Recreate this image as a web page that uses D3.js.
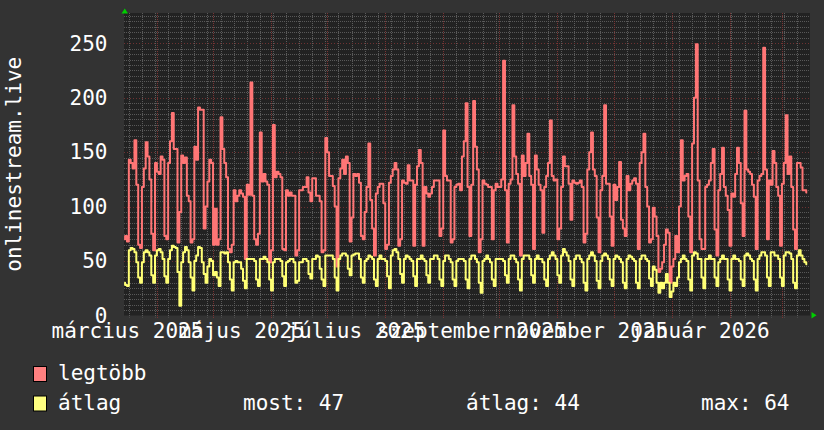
<!DOCTYPE html>
<html>
<head>
<meta charset="utf-8">
<script src="https://cdn.jsdelivr.net/npm/d3@7"></script>
<style>
body { margin: 0; background: #333333; }
text { font-family: "DejaVu Sans Mono", monospace; font-size: 21px; fill: #ffffff; }
</style>
</head>
<body>
<svg id="chart" width="824" height="430"></svg>
<script>
// daily values, one row per week (Fri .. Thu), starting 2025-03-14
const legtobb = [
  70, 73, 68, 143, 140, 135, 161,
  120, 65, 62, 118, 135, 159, 146,
  125, 75, 60, 140, 132, 130, 146,
  143, 73, 70, 140, 160, 186, 153,
  153, 67, 95, 147, 140, 145, 110,
  105, 67, 70, 155, 143, 191, 189,
  189, 80, 100, 123, 143, 140, 65,
  98, 65, 70, 182, 153, 140, 127,
  61, 58, 65, 115, 105, 110, 115,
  112, 109, 52, 120, 111, 214, 110,
  70, 65, 75, 168, 123, 130, 123,
  120, 49, 60, 175, 127, 132, 130,
  127, 61, 60, 115, 110, 113, 110,
  110, 55, 60, 115, 115, 118, 118,
  127, 113, 105, 126, 126, 110, 110,
  105, 58, 60, 163, 150, 128, 128,
  119, 100, 45, 126, 135, 143, 130,
  146, 140, 68, 90, 130, 128, 130,
  122, 73, 70, 95, 118, 158, 106,
  80, 55, 112, 118, 121, 121, 103,
  61, 65, 122, 128, 134, 140, 134,
  64, 70, 124, 122, 121, 138, 124,
  124, 64, 120, 137, 152, 140, 64,
  118, 112, 109, 112, 118, 124, 124,
  124, 73, 80, 170, 128, 124, 124,
  67, 70, 118, 120, 121, 115, 146,
  160, 195, 118, 73, 120, 197, 155,
  134, 58, 70, 124, 121, 120, 118,
  118, 70, 115, 121, 118, 118, 125,
  234, 115, 67, 121, 125, 193, 146,
  130, 121, 55, 147, 128, 140, 167,
  128, 120, 61, 147, 134, 120, 115,
  76, 118, 128, 140, 179, 128, 124,
  125, 70, 80, 118, 146, 137, 137,
  121, 88, 124, 122, 121, 122, 124,
  118, 67, 75, 134, 150, 168, 134,
  128, 90, 58, 115, 128, 193, 121,
  121, 91, 64, 120, 106, 118, 141,
  88, 80, 73, 128, 115, 121, 124,
  126, 121, 61, 140, 150, 167, 118,
  100, 67, 70, 99, 91, 73, 40,
  43, 49, 65, 79, 76, 30, 45,
  52, 73, 58, 100, 161, 124, 128,
  130, 91, 58, 158, 200, 249, 124,
  70, 61, 61, 118, 120, 124, 140,
  153, 79, 55, 115, 130, 154, 118,
  110, 97, 64, 112, 109, 130, 154,
  140, 103, 73, 188, 134, 132, 130,
  120, 109, 61, 124, 128, 130, 246,
  134, 70, 124, 120, 151, 140, 118,
  110, 64, 121, 140, 184, 130, 146,
  118, 79, 61, 140, 140, 136, 115,
  115, 113
];

const atlag = [
  30, 28, 27, 60, 62, 61, 58,
  49, 35, 30, 49, 58, 60, 58,
  55, 37, 30, 55, 60, 61, 58,
  52, 36, 30, 52, 60, 64, 63,
  62, 40, 9, 49, 58, 63, 60,
  49, 35, 23, 50, 55, 63, 62,
  49, 38, 30, 45, 52, 50, 37,
  40, 35, 27, 58, 58, 57, 58,
  49, 33, 23, 49, 50, 49, 49,
  43, 32, 25, 52, 52, 52, 52,
  50, 33, 27, 52, 52, 54, 52,
  49, 33, 23, 49, 52, 52, 52,
  50, 36, 27, 49, 50, 52, 52,
  49, 30, 32, 49, 49, 52, 52,
  50, 38, 34, 52, 52, 55, 54,
  43, 33, 27, 55, 55, 55, 55,
  52, 35, 23, 52, 55, 57, 57,
  55, 43, 37, 55, 56, 57, 57,
  52, 35, 30, 50, 52, 55, 54,
  52, 33, 27, 52, 55, 52, 52,
  50, 36, 25, 55, 60, 61, 58,
  52, 38, 30, 52, 55, 54, 52,
  50, 36, 27, 52, 52, 55, 52,
  50, 37, 30, 52, 52, 55, 55,
  52, 33, 27, 50, 55, 55, 52,
  49, 33, 27, 50, 52, 52, 52,
  50, 33, 25, 52, 55, 55, 52,
  49, 30, 21, 50, 52, 55, 52,
  49, 33, 27, 52, 52, 52, 52,
  50, 37, 30, 52, 55, 55, 52,
  49, 33, 23, 52, 55, 55, 55,
  52, 37, 30, 52, 55, 52, 52,
  49, 33, 27, 52, 55, 58, 55,
  52, 37, 30, 55, 61, 58, 55,
  50, 33, 27, 52, 55, 55, 52,
  49, 30, 23, 52, 55, 58, 55,
  50, 32, 25, 50, 55, 57, 55,
  52, 33, 27, 52, 55, 54, 52,
  49, 30, 25, 52, 55, 54, 52,
  50, 30, 25, 52, 55, 55, 52,
  50, 34, 27, 45, 42, 30, 21,
  30, 25, 30, 38, 30, 17, 22,
  30, 27, 35, 49, 52, 55, 52,
  50, 33, 23, 55, 58, 57, 52,
  52, 35, 25, 52, 52, 55, 52,
  52, 35, 27, 49, 52, 55, 52,
  52, 33, 23, 52, 55, 52, 52,
  50, 33, 27, 55, 57, 55, 52,
  50, 33, 23, 52, 55, 58, 58,
  55, 35, 27, 58, 58, 55, 55,
  52, 35, 27, 55, 58, 58, 57,
  52, 30, 25, 55, 60, 55, 52,
  49, 47
];

const firstDay = Date.UTC(2025, 2, 14);
const yTicks = [0, 50, 100, 150, 200, 250];
const monthLabels = ["március 2025", "május 2025", "július 2025", "szeptember 2025", "november 2025", "január 2026"];
const labelMonths = [[2025, 2], [2025, 4], [2025, 6], [2025, 8], [2025, 10], [2026, 0]];
const seriesNames = ["legtöbb", "átlag"];
const seriesColors = ["#ff7575", "#ffff75"];
const swatchColors = ["#ff8080", "#ffff80"];
const statLabels = ["most: 47", "átlag: 44", "max: 64"];
const title = "onlinestream.live";

var margin = {top: 13, left: 124},
    width = 686,
    height = 302.5;

var svg = d3.select('#chart');
svg.append('rect').attr('width', 824).attr('height', 430).attr('fill', '#333333');

var x = d3.scaleUtc()
          .domain([new Date(Date.UTC(2025, 2, 14, 10)), new Date(Date.UTC(2026, 2, 16))])
          .range([0, width]);
var y = d3.scaleLinear()
          .domain([0, 277.8])
          .range([height, 0]);

var chartGroup = svg.append('g')
                    .attr('transform', 'translate(' + margin.left + ',' + margin.top + ')');

chartGroup.append('rect').attr('width', width).attr('height', height).attr('fill', '#222222');

// minor grid: every 5 units and every monday
var minorY = d3.range(5, 277, 5).filter(function(v){ return v % 50 !== 0; });
chartGroup.selectAll('.hminor').data(minorY).enter().append('line')
          .attr('x1', 0).attr('x2', width)
          .attr('y1', function(d){ return Math.round(y(d)) + 0.5; })
          .attr('y2', function(d){ return Math.round(y(d)) + 0.5; })
          .attr('stroke', '#585858').attr('stroke-dasharray', '1,1');

var mondays = d3.utcMonday.range(x.domain()[0], x.domain()[1]);
chartGroup.selectAll('.vminor').data(mondays).enter().append('line')
          .attr('y1', 0).attr('y2', height + 2)
          .attr('x1', function(d){ return Math.round(x(d)) + 0.5; })
          .attr('x2', function(d){ return Math.round(x(d)) + 0.5; })
          .attr('stroke', '#5c5c5c').attr('stroke-dasharray', '1,1');

// major grid: every 50 units and every month
chartGroup.selectAll('.hmajor').data(yTicks.slice(1)).enter().append('line')
          .attr('x1', 0).attr('x2', width)
          .attr('y1', function(d){ return Math.round(y(d)) + 0.5; })
          .attr('y2', function(d){ return Math.round(y(d)) + 0.5; })
          .attr('stroke', '#6e3232').attr('stroke-dasharray', '1,2');

var months = d3.utcMonth.range(x.domain()[0], x.domain()[1]);
chartGroup.selectAll('.vmajor').data(months).enter().append('line')
          .attr('y1', 0).attr('y2', height + 3)
          .attr('x1', function(d){ return Math.round(x(d)) + 0.5; })
          .attr('x2', function(d){ return Math.round(x(d)) + 0.5; })
          .attr('stroke', '#7a3434').attr('stroke-dasharray', '1,1');

// lines (rrd style: each daily value held for its day)
chartGroup.append('clipPath').attr('id', 'plotclip')
          .append('rect').attr('width', width).attr('height', height);

var line = d3.line()
             .curve(d3.curveStep)
             .x(function(d, i){ return x(new Date(firstDay + i * 864e5 + 432e5)); })
             .y(function(d){ return y(d); });

[legtobb, atlag].forEach(function(series, k){
  chartGroup.append('path')
            .attr('d', line(series))
            .attr('fill', 'none')
            .attr('stroke', seriesColors[k])
            .attr('stroke-width', 2)
            .attr('stroke-linejoin', 'round')
            .attr('clip-path', 'url(#plotclip)');
});

// arrows
svg.append('path').attr('d', 'M121.5,13.5 L124.8,8.5 L128,13.5 Z').attr('fill', '#00d000');
svg.append('path').attr('d', 'M811.5,312 L816.5,315.3 L811.5,318.5 Z').attr('fill', '#00d000');

// Y axis labels
var yAxis = d3.axisLeft(y).tickValues(yTicks).tickSize(0).tickPadding(16.5);
var yg = chartGroup.append('g').call(yAxis);
yg.select('.domain').remove();

// X axis labels, centred on each labelled month
var labelDates = labelMonths.map(function(m){ return new Date(Date.UTC(m[0], m[1], 16)); });
var xAxis = d3.axisBottom(x).tickValues(labelDates).tickSize(0).tickPadding(8)
              .tickFormat(function(d, i){ return monthLabels[i]; });
var xg = chartGroup.append('g').attr('transform', 'translate(0,' + height + ')').call(xAxis);
xg.select('.domain').remove();

// title
svg.append('text')
   .attr('text-anchor', 'middle')
   .attr('transform', 'translate(21,' + (margin.top + height / 2) + ') rotate(-90)')
   .text(title);

// legend
var legend = svg.append('g');
seriesNames.forEach(function(name, k){
  legend.append('rect')
        .attr('x', 33.5).attr('y', 366.5 + k * 29.5)
        .attr('width', 13).attr('height', 15)
        .attr('fill', swatchColors[k])
        .attr('stroke', '#000000');
  legend.append('text')
        .attr('x', 58).attr('y', 380 + k * 29.5)
        .text(name);
});
var statX = [243, 466, 701];
statLabels.forEach(function(s, i){
  legend.append('text').attr('x', statX[i]).attr('y', 409.5).text(s);
});
</script>
</body>
</html>
